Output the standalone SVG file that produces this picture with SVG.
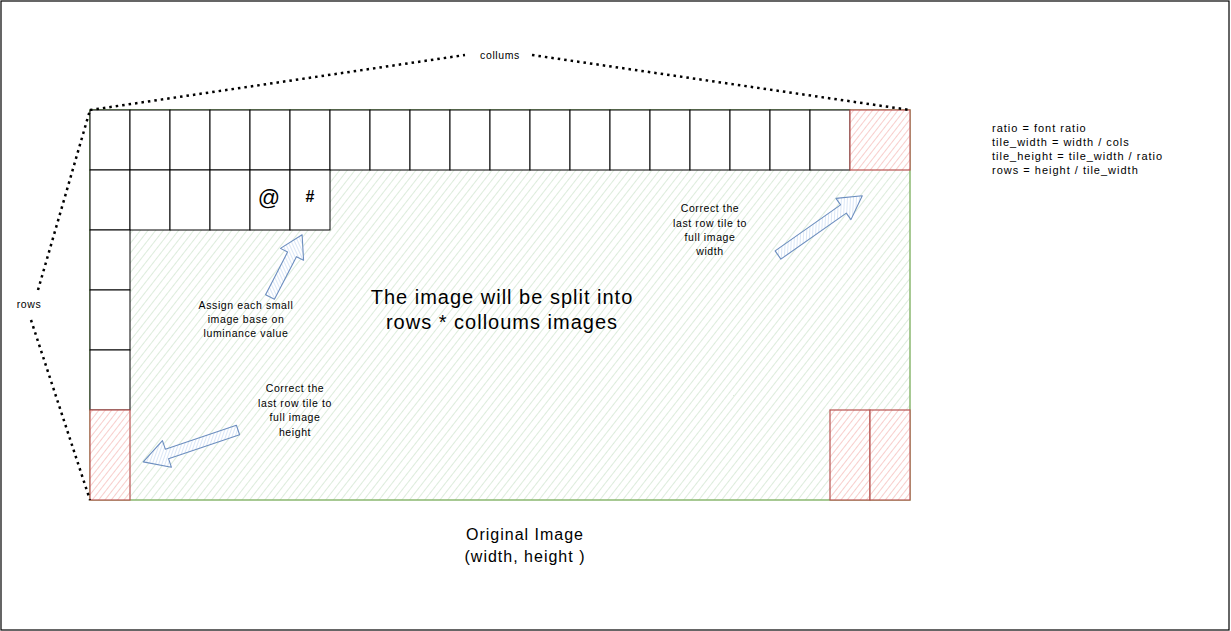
<svg xmlns="http://www.w3.org/2000/svg" width="1231" height="631" viewBox="0 0 1231 631">
<defs>
<pattern id="hG" patternUnits="userSpaceOnUse" width="6" height="6" patternTransform="rotate(38)">
<rect width="6" height="6" fill="#ffffff"/>
<line x1="0" y1="0" x2="0" y2="6" stroke="#d5e8d4" stroke-width="1.6"/>
</pattern>
<pattern id="hR" patternUnits="userSpaceOnUse" width="5" height="5" patternTransform="rotate(38)">
<rect width="5" height="5" fill="#ffffff"/>
<line x1="0" y1="0" x2="0" y2="5" stroke="#f8cecc" stroke-width="2"/>
</pattern>
<pattern id="hB" patternUnits="userSpaceOnUse" width="3" height="3" patternTransform="rotate(38)">
<rect width="3" height="3" fill="#ffffff"/>
<line x1="0" y1="0" x2="0" y2="3" stroke="#c3d7f2" stroke-width="1.2"/>
</pattern>
</defs>
<style>
text{font-family:"Liberation Sans",Arial,sans-serif;fill:#000}
.s{font-size:10.5px;letter-spacing:0.6px}
.m{font-size:11px;letter-spacing:1px}
.t{fill:#fff;stroke:#000;stroke-width:1}
.r{fill:url(#hR);stroke:#b85450;stroke-width:1.2}
.a{fill:url(#hB);stroke:#6c8ebf;stroke-width:1.1;stroke-linejoin:round}
.d{fill:none;stroke:#000;stroke-width:2.5;stroke-dasharray:2.5 4}
.big{font-size:20px;letter-spacing:1px}
.o{font-size:16px;letter-spacing:1px}
</style>
<rect id="frame" x="1" y="1" width="1228" height="629" fill="#fff" stroke="#000" stroke-width="1.2"/>
<g id="image">
<rect x="90" y="110" width="820" height="390" fill="url(#hG)" stroke="#82b366" stroke-width="1.4"/>
</g>
<g id="tiles-top">
<rect class="t" x="90" y="110" width="40" height="60"/>
<rect class="t" x="130" y="110" width="40" height="60"/>
<rect class="t" x="170" y="110" width="40" height="60"/>
<rect class="t" x="210" y="110" width="40" height="60"/>
<rect class="t" x="250" y="110" width="40" height="60"/>
<rect class="t" x="290" y="110" width="40" height="60"/>
<rect class="t" x="330" y="110" width="40" height="60"/>
<rect class="t" x="370" y="110" width="40" height="60"/>
<rect class="t" x="410" y="110" width="40" height="60"/>
<rect class="t" x="450" y="110" width="40" height="60"/>
<rect class="t" x="490" y="110" width="40" height="60"/>
<rect class="t" x="530" y="110" width="40" height="60"/>
<rect class="t" x="570" y="110" width="40" height="60"/>
<rect class="t" x="610" y="110" width="40" height="60"/>
<rect class="t" x="650" y="110" width="40" height="60"/>
<rect class="t" x="690" y="110" width="40" height="60"/>
<rect class="t" x="730" y="110" width="40" height="60"/>
<rect class="t" x="770" y="110" width="40" height="60"/>
<rect class="t" x="810" y="110" width="40" height="60"/>
<rect class="r" x="850" y="110" width="60" height="60"/>
</g>
<g id="tiles-second">
<rect class="t" x="90" y="170" width="40" height="60"/>
<rect class="t" x="130" y="170" width="40" height="60"/>
<rect class="t" x="170" y="170" width="40" height="60"/>
<rect class="t" x="210" y="170" width="40" height="60"/>
<rect class="t" x="250" y="170" width="40" height="60"/>
<text x="269" y="205" text-anchor="middle" font-size="22">@</text>
<rect class="t" x="290" y="170" width="40" height="60"/>
<text x="310" y="202" text-anchor="middle" font-size="16" font-weight="bold">#</text>
</g>
<g id="tiles-left">
<rect class="t" x="90" y="230" width="40" height="60"/>
<rect class="t" x="90" y="290" width="40" height="60"/>
<rect class="t" x="90" y="350" width="40" height="60"/>
<rect class="r" x="90" y="410" width="40" height="90"/>
</g>
<g id="tiles-bottom-right">
<rect class="r" x="830" y="410" width="40" height="90"/>
<rect class="r" x="870" y="410" width="40" height="90"/>
</g>
<g id="connectors">
<path class="d" d="M90 110 L465 55"/>
<path class="d" d="M532 55 L910 110"/>
<path class="d" d="M38 290 L90 110"/>
<path class="d" d="M31 320 L90 500"/>
<polygon class="a" transform="translate(270,297) rotate(-62.7)" points="0,-5 48,-5 48,-13 70,0 48,13 48,5 0,5"/>
<polygon class="a" transform="translate(778,255) rotate(-35.1)" points="0,-5 80,-5 80,-13 103,0 80,13 80,5 0,5"/>
<polygon class="a" transform="translate(238,430) rotate(161.4)" points="0,-5 75,-5 75,-14 100,0 75,14 75,5 0,5"/>
</g>
<g id="labels">
<text class="s" x="500" y="59" text-anchor="middle">collums</text>
<text class="s" x="29" y="308" text-anchor="middle">rows</text>
<text class="m" x="992" y="132">ratio = font ratio</text>
<text class="m" x="992" y="146">tile_width = width / cols</text>
<text class="m" x="992" y="160">tile_height = tile_width / ratio</text>
<text class="m" x="992" y="174">rows = height / tile_width</text>
<text class="big" x="502" y="304" text-anchor="middle">The image will be split into</text>
<text class="big" x="502" y="329" text-anchor="middle">rows * colloums images</text>
<text class="s" x="246" y="309" text-anchor="middle">Assign each small</text>
<text class="s" x="246" y="323" text-anchor="middle">image base on</text>
<text class="s" x="246" y="337" text-anchor="middle">luminance value</text>
<text class="s" x="710" y="212" text-anchor="middle">Correct the</text>
<text class="s" x="710" y="227" text-anchor="middle">last row tile to</text>
<text class="s" x="710" y="241" text-anchor="middle">full image</text>
<text class="s" x="710" y="255" text-anchor="middle">width</text>
<text class="s" x="295" y="392" text-anchor="middle">Correct the</text>
<text class="s" x="295" y="407" text-anchor="middle">last row tile to</text>
<text class="s" x="295" y="421" text-anchor="middle">full image</text>
<text class="s" x="295" y="436" text-anchor="middle">height</text>
<text class="o" x="525" y="540" text-anchor="middle">Original Image</text>
<text class="o" x="525" y="562" text-anchor="middle">(width, height )</text>
</g>
</svg>
